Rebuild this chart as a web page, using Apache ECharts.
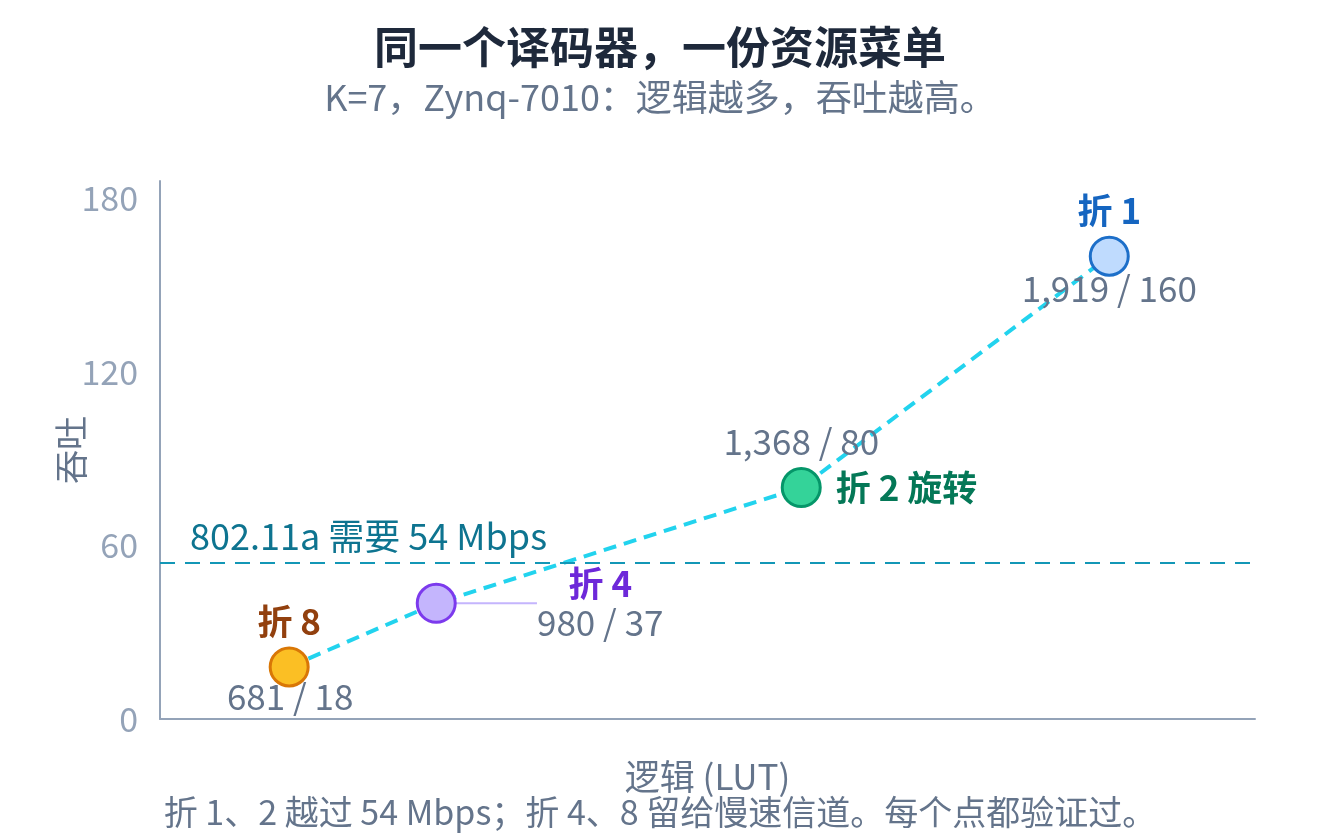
<!DOCTYPE html>
<html>
<head>
<meta charset="utf-8">
<script src="https://cdn.jsdelivr.net/npm/echarts@6/dist/echarts.min.js"></script>
<style>
  html, body { margin: 0; padding: 0; background: #fff; }
  #chart { width: 1320px; height: 840px; }
</style>
</head>
<body>
<div id="chart"></div>
<script>
// data
const folds = ['折 8', '折 4', '折 2 旋转', '折 1'];
const lut = [681, 980, 1368, 1919];
const tput = [18, 37, 80, 160];
// where each dot actually sits on the (unlabelled) LUT axis and on the throughput axis
const xAt = [681, 903, 1454, 1919];
const yAt = [18, 40, 80, 160];
const need = 54;
const yTicks = [0, 60, 120, 180];

const FONT = '"Noto Sans CJK SC", "Noto Sans", sans-serif';
const fill = ['#fbbf24', '#c4b5fd', '#34d399', '#bfdbfe'];
const edge = ['#d97706', '#7c3aed', '#059669', '#1d6fc9'];
const ink = ['#92400e', '#6d28d9', '#047857', '#1565c0'];

const fmt = v => v.toLocaleString('en-US');
const pts = xAt.map((x, i) => [x, yAt[i]]);

// label shifts (px) from each dot's centre
const nameShift = [{ dy: -45 }, { dx: 164 }, {}, { dy: -46 }];
const valueShift = [{ dx: 1, dy: 30 }, null, { dy: -46 }, { dy: 32 }];

const markerData = pts.map((p, i) => {
  const d = {
    value: p,
    itemStyle: { color: fill[i], borderColor: edge[i], borderWidth: 3, opacity: 1 }
  };
  if (i === 1) {
    // 折 4 sits off to the side with a leader line
    d.label = {
      show: true,
      position: 'inside',
      formatter: `{n|${folds[i]}}\n{v|${fmt(lut[i])} / ${tput[i]}}`,
      align: 'center',
      rich: {
        n: { color: ink[i], fontSize: 35, fontWeight: 'bold', fontFamily: FONT, lineHeight: 39, align: 'center' },
        v: { color: '#64748b', fontSize: 35, fontFamily: FONT, lineHeight: 39, align: 'center' }
      }
    };
    d.labelLine = { show: true, lineStyle: { color: '#c4b5fd', width: 2 } };
  } else {
    d.label = {
      show: true,
      position: i === 2 ? 'right' : 'inside',
      distance: 14,
      formatter: folds[i],
      color: ink[i],
      fontSize: 35,
      fontWeight: 'bold',
      fontFamily: FONT
    };
  }
  return d;
});

const valueData = pts.map((p, i) => ({
  value: p,
  label: valueShift[i] ? {
    show: true,
    position: 'inside',
    formatter: `${fmt(lut[i])} / ${tput[i]}`,
    color: '#64748b',
    fontSize: 35,
    fontFamily: FONT
  } : { show: false }
}));

const chart = echarts.init(document.getElementById('chart'));
chart.setOption({
  backgroundColor: '#ffffff',
  animation: false,
  title: [{
    text: '同一个译码器，一份资源菜单',
    subtext: 'K=7，Zynq-7010：逻辑越多，吞吐越高。',
    left: 'center',
    top: 20,
    itemGap: 10,
    textStyle: { color: '#1e293b', fontSize: 44, fontWeight: 'bold', fontFamily: FONT },
    subtextStyle: { color: '#64748b', fontSize: 36, fontFamily: FONT }
  }, {
    text: '折 1、2 越过 54 Mbps；折 4、8 留给慢速信道。每个点都验证过。',
    left: 'center',
    top: 790,
    textStyle: { color: '#64748b', fontSize: 34, fontWeight: 'normal', fontFamily: FONT }
  }],
  grid: { left: 160, right: 65, top: 181, bottom: 121 },
  xAxis: {
    type: 'value',
    min: 486,
    max: 2139,
    name: '逻辑 (LUT)',
    nameLocation: 'middle',
    nameGap: 40,
    nameTextStyle: { color: '#64748b', fontSize: 35, fontFamily: FONT },
    axisLine: { show: true, lineStyle: { color: '#94a3b8', width: 2 } },
    axisTick: { show: false },
    axisLabel: { show: false },
    splitLine: { show: false }
  },
  yAxis: {
    type: 'value',
    min: yTicks[0],
    max: 186,
    interval: yTicks[1] - yTicks[0],
    name: '吞吐',
    nameLocation: 'middle',
    nameGap: 72,
    nameMoveOverlap: false,
    nameTextStyle: { color: '#64748b', fontSize: 34, fontFamily: FONT },
    axisLine: { show: true, lineStyle: { color: '#94a3b8', width: 2 } },
    axisTick: { show: false },
    axisLabel: {
      color: '#94a3b8', fontSize: 34, fontFamily: FONT, margin: 22,
      showMaxLabel: false,
      formatter: v => (yTicks.includes(v) ? String(v) : '')
    },
    splitLine: { show: false }
  },
  series: [{
    type: 'line',
    data: pts,
    showSymbol: false,
    z: 2,
    lineStyle: { color: '#22d3ee', width: 4, type: [13, 8] },
    markLine: {
      silent: true,
      symbol: 'none',
      lineStyle: { color: '#1397b6', width: 2, type: [15, 10] },
      label: {
        position: 'insideStartTop',
        distance: [30, 8],
        formatter: '802.11a 需要 54 Mbps',
        color: '#0e7490',
        fontSize: 36,
        fontFamily: FONT
      },
      data: [{ yAxis: need }]
    }
  }, {
    type: 'scatter',
    data: valueData,
    symbolSize: 38,
    itemStyle: { color: 'rgba(0,0,0,0)', opacity: 1 },
    silent: true,
    z: 3,
    labelLayout: p => valueShift[p.dataIndex] || {}
  }, {
    type: 'scatter',
    data: markerData,
    symbolSize: 38,
    z: 4,
    labelLayout: p => nameShift[p.dataIndex] || {}
  }]
});
</script>
</body>
</html>
